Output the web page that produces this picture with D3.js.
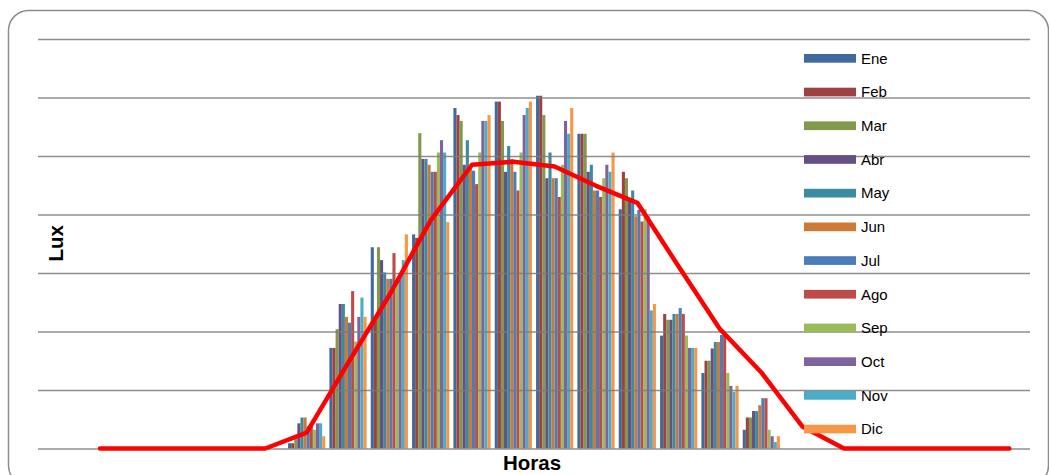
<!DOCTYPE html>
<html><head><meta charset="utf-8">
<script src="https://cdn.jsdelivr.net/npm/d3@7"></script>
<style>body{margin:0;background:#fff}svg{display:block}text{font-family:"Liberation Sans",Arial,sans-serif}</style>
</head><body><svg id="c" width="1049" height="475"></svg>
<script>
const hours = [0,1,2,3,4,5,6,7,8,9,10,11,12,13,14,15,16,17,18,19,20,21,22,23];
const months = ["Ene","Feb","Mar","Abr","May","Jun","Jul","Ago","Sep","Oct","Nov","Dic"];
const colors = ["#3F6A9C","#9E4140","#80994A","#654F85","#3A8BA1","#CD7A37","#4A7EBB","#BE4B48","#9BBB59","#7F63A0","#4BACC6","#F79646"];
const ene = [0,0,0,0,0,0, 90,1720,3440,3660,5820,5930,6030,5380,4090,1930,1290,320, 0,0,0,0,0,0];
const feb = [0,0,0,0,0,0, 90,1720,2230,3600,5700,5930,6030,5380,4730,2300,1500,530, 0,0,0,0,0,0];
const mar = [0,0,0,0,0,0, 170,2040,3440,5390,5600,5600,5700,5380,4620,2200,1500,530, 0,0,0,0,0,0];
const abr = [0,0,0,0,0,0, 430,2470,3220,4950,4850,4730,4620,4730,4250,2200,1710,640, 0,0,0,0,0,0];
const may = [0,0,0,0,0,0, 530,2470,3010,4950,5270,5170,5060,4850,4410,2300,1820,640, 0,0,0,0,0,0];
const jun = [0,0,0,0,0,0, 530,2250,2900,4850,4850,4950,4620,4410,3970,2300,1820,740, 0,0,0,0,0,0];
const jul = [0,0,0,0,0,0, 380,2150,2900,4730,4750,4730,4620,4410,4080,2400,1940,860, 0,0,0,0,0,0];
const ago = [0,0,0,0,0,0, 380,2690,3340,4730,4520,4410,4300,4300,3880,2300,1970,860, 0,0,0,0,0,0];
const sep = [0,0,0,0,0,0, 320,1830,2880,5060,5060,5060,4850,4620,4090,1930,1290,320, 0,0,0,0,0,0];
const oct = [0,0,0,0,0,0, 430,2250,2970,5270,5600,5700,5600,4850,3970,1720,1070,210, 0,0,0,0,0,0];
const nov = [0,0,0,0,0,0, 430,2580,3220,5060,5600,5820,5380,4730,2360,1720,970,110, 0,0,0,0,0,0];
const dic = [0,0,0,0,0,0, 210,2250,3660,3870,5700,5930,5820,5060,2470,1720,1070,210, 0,0,0,0,0,0];
const lineValues = [null,0,0,0,0,0, 270,1460,2620,3900,4850,4900,4820,4490,4200,3110,2040,1300,370, 0,0,0,0,0];
const yTicks = [0,1000,2000,3000,4000,5000,6000,7000];

const series = [ene,feb,mar,abr,may,jun,jul,ago,sep,oct,nov,dic];
const svg = d3.select("#c");
svg.append("rect").attr("width",1049).attr("height",475).attr("fill","#fff");
svg.append("rect").attr("x",8.5).attr("y",10.5).attr("width",1040).attr("height",475)
  .attr("rx",20).attr("fill","#fff").attr("stroke","#8c8c8c").attr("stroke-width",1.5);

const pL = 38, pR = 1030, pT = 39, pB = 448.5;
const x = d3.scaleBand().domain(hours).range([pL,pR]).paddingInner(0.1).paddingOuter(0.05);
const xs = d3.scaleBand().domain(months).range([0,x.bandwidth()]);
const y = d3.scaleLinear().domain([0,7000]).range([pB,pT]);

const gBars = svg.append("g");
series.forEach((s,mi)=>{
  gBars.append("g").attr("fill",colors[mi]).selectAll("rect").data(s).join("rect")
    .attr("x",(d,i)=>x(hours[i])+xs(months[mi]))
    .attr("width",xs.bandwidth())
    .attr("y",d=>y(d))
    .attr("height",d=>y(0)-y(d));
});

const grid = svg.append("g").attr("transform",`translate(${pL},0)`)
  .call(d3.axisLeft(y).tickValues(yTicks).tickSize(-(pR-pL)).tickFormat(""));
grid.select(".domain").remove();
grid.selectAll(".tick line").attr("stroke","#7a7a7a").attr("stroke-opacity",0.85).attr("stroke-width",1.6);

const line = d3.line().defined(d=>d!==null)
  .x((d,i)=>x(hours[i])+x.bandwidth()/2).y(d=>y(d));
svg.append("path").datum(lineValues).attr("d",line).attr("fill","none")
  .attr("stroke","#FF0000").attr("stroke-width",4.5).attr("stroke-linejoin","round").attr("stroke-linecap","round");

const leg = svg.append("g");
months.forEach((m,i)=>{
  const cy = 58.3 + i*33.7;
  leg.append("rect").attr("x",804).attr("y",cy-4.3).attr("width",52).attr("height",8.7).attr("fill",colors[i]);
  leg.append("text").attr("x",861).attr("y",cy+5.3).attr("font-size",15).attr("fill","#000").text(m);
});

svg.append("text").attr("x",532).attr("y",470).attr("text-anchor","middle")
  .attr("font-size",20.5).attr("font-weight","bold").text("Horas");
svg.append("text").attr("transform","translate(62.5,243.3) rotate(-90)").attr("text-anchor","middle")
  .attr("font-size",20.5).attr("font-weight","bold").text("Lux");
</script></body></html>
